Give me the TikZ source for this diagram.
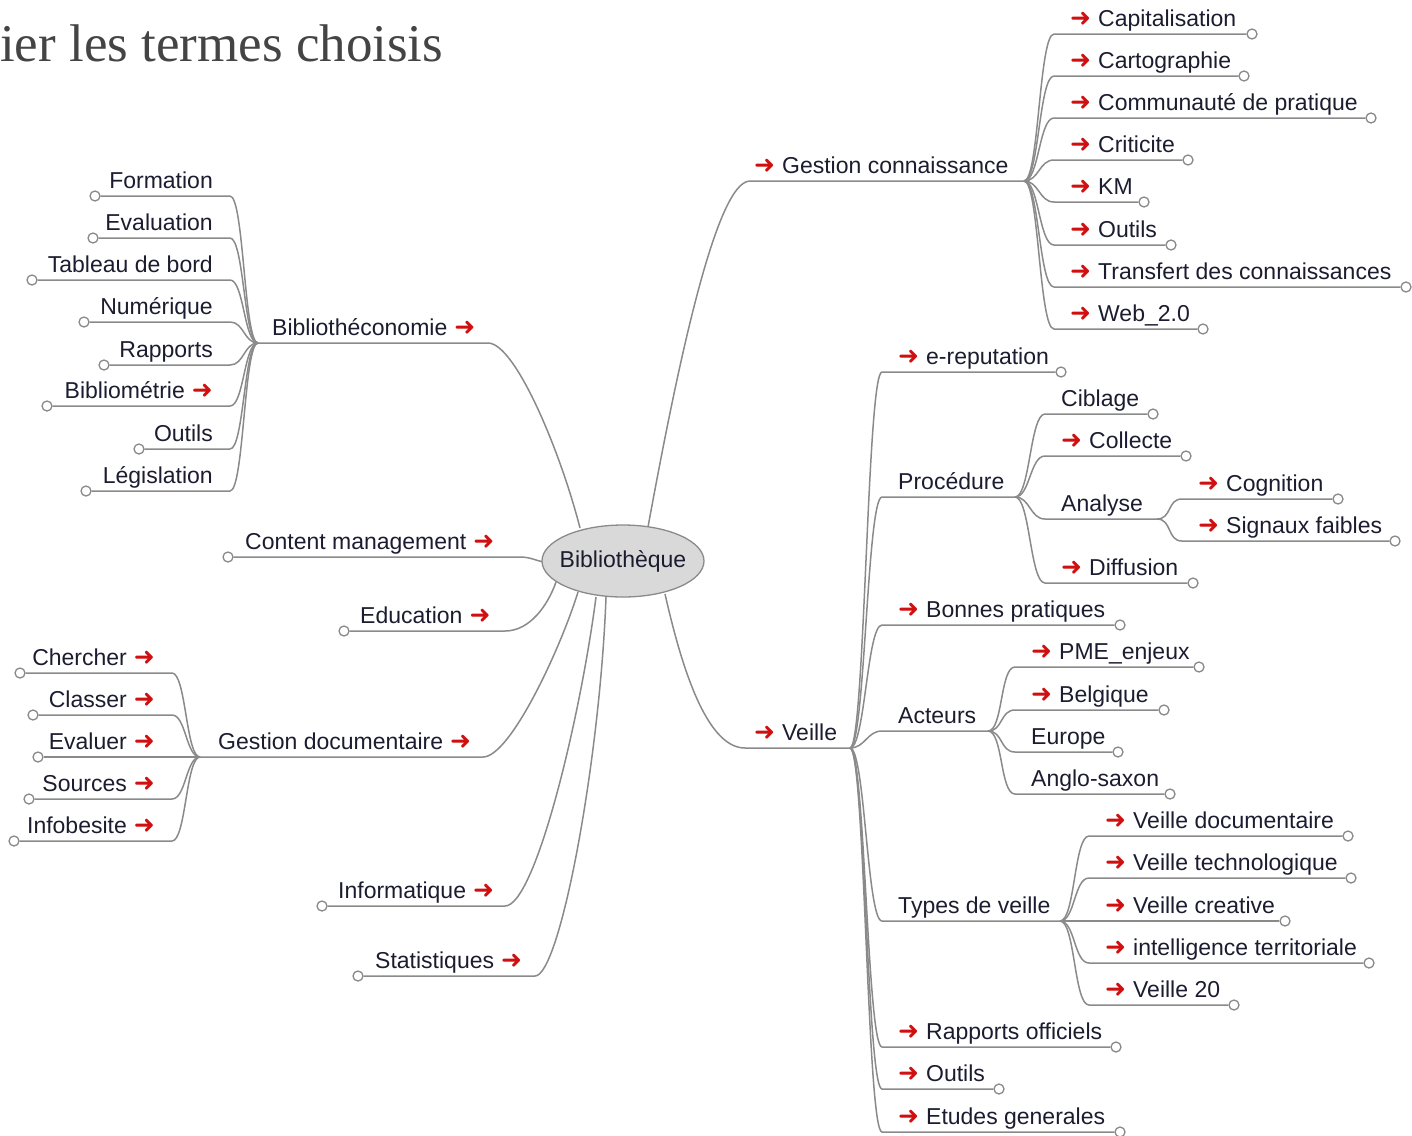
\documentclass[tikz,border=0pt]{standalone}
\usepackage{fontspec}
\setmainfont{Liberation Sans}
\newfontfamily\serifttl{Liberation Serif}
\newfontfamily\arrowfont{DejaVu Sans}
\usetikzlibrary{calc,shapes.geometric}
\definecolor{linegray}{HTML}{8A8A8A}
\definecolor{txt}{HTML}{1C1C30}
\definecolor{arrred}{HTML}{D01010}
\definecolor{ellfill}{HTML}{D9D9D9}
\definecolor{titlegray}{HTML}{444444}
\newcommand\arw{{\arrowfont\bfseries\color{arrred}\fontsize{25}{25}\selectfont ➜}}
\newcommand\ra{\arw\hspace{7pt}}
\newcommand\la{\hspace{7pt}\arw}
% right-hand leaf: name, parent junction, start x, underline y, knob x, label
\newcommand\rleaf[6]{%
  \coordinate (#1-s) at (#3,#4);
  \node[lbl,anchor=base west] (#1) at (#3+16,#4-8) {#6};
  \node[knob] (#1-k) at (#5,#4) {};
  \draw[branch] (#2) .. controls ($(#2)+(15,0)$) and ($(#1-s)+(-15,0)$) .. (#1-s) -- (#1-k);
}
% right-hand inner node: name, parent junction, start x, underline y, own junction x, label
\newcommand\rnode[6]{%
  \coordinate (#1-s) at (#3,#4);
  \coordinate (#1-j) at (#5,#4);
  \node[lbl,anchor=base west] (#1) at (#3+16,#4-8) {#6};
  \draw[branch] (#2) .. controls ($(#2)+(15,0)$) and ($(#1-s)+(-15,0)$) .. (#1-s) -- (#1-j);
}
% left-hand leaf: name, parent junction, end x, underline y, knob x, label
\newcommand\lleaf[6]{%
  \coordinate (#1-s) at (#3,#4);
  \node[lbl,anchor=base east] (#1) at (#3-17,#4-8) {#6};
  \node[knob] (#1-k) at (#5,#4) {};
  \draw[branch] (#2) .. controls ($(#2)+(-14,0)$) and ($(#1-s)+(14,0)$) .. (#1-s) -- (#1-k);
}
\begin{document}
\begin{tikzpicture}[x=1pt,y=-1pt,
  lbl/.style={font=\fontsize{23}{26}\selectfont, text=txt, inner sep=0pt},
  branch/.style={draw=linegray, line width=1.5pt},
  knob/.style={circle, draw=linegray, fill=white, line width=1.3pt, inner sep=0pt, minimum size=10pt},
  rootstyle/.style={ellipse, draw=linegray, fill=ellfill, line width=1.3pt, minimum width=162pt, minimum height=72pt, inner sep=0pt}
]
\useasboundingbox (0,0) rectangle (1412,1135);

\node[anchor=base west, inner sep=0pt, font=\serifttl\fontsize{53}{53}\selectfont, text=titlegray] (title) at (0,61) {ier les termes choisis};

% exit points on the central ellipse
\coordinate (r-gc) at (648,527);
\coordinate (r-ve) at (665,594);
\coordinate (r-bi) at (580,528);
\coordinate (r-cm) at (546,562);
\coordinate (r-ed) at (556,582);
\coordinate (r-gd) at (578,592);
\coordinate (r-in) at (596,597);
\coordinate (r-st) at (606,597);

% ---------- main branches ----------
\coordinate (jgc) at (1024,181);
\node[lbl,anchor=base west] (gc) at (754,173) {\ra Gestion connaissance};
\draw[branch] (r-gc) .. controls (675,380) and (715,181) .. (750,181) -- (jgc);

\coordinate (jv) at (850,748);
\node[lbl,anchor=base west] (veille) at (754,740) {\ra Veille};
\draw[branch] (r-ve) .. controls (680,660) and (705,748) .. (745,748) -- (jv);

\coordinate (jb) at (258,343);
\node[lbl,anchor=base west] (biblio) at (272,335) {Bibliothéconomie\la};
\draw[branch] (jb) -- (488,343) .. controls (515,343) and (560,450) .. (r-bi);

\node[knob] (cm-k) at (228,557) {};
\node[lbl,anchor=base west] (cm) at (245,549) {Content management\la};
\draw[branch] (cm-k) -- (520,557) .. controls (532,557) and (538,562) .. (r-cm);

\node[knob] (ed-k) at (344,631) {};
\node[lbl,anchor=base west] (ed) at (360,623) {Education\la};
\draw[branch] (ed-k) -- (505,631) .. controls (530,631) and (548,605) .. (r-ed);

\coordinate (jgd) at (200,757);
\node[lbl,anchor=base west] (gd) at (218,749) {Gestion documentaire\la};
\draw[branch] (jgd) -- (483,757) .. controls (510,757) and (560,650) .. (r-gd);

\node[knob] (inf-k) at (322,906) {};
\node[lbl,anchor=base west] (inf) at (338,898) {Informatique\la};
\draw[branch] (inf-k) -- (505,906) .. controls (535,906) and (580,720) .. (r-in);

\node[knob] (st-k) at (358,976) {};
\node[lbl,anchor=base west] (st) at (375,968) {Statistiques\la};
\draw[branch] (st-k) -- (535,976) .. controls (560,976) and (600,760) .. (r-st);

% ---------- Bibliotheconomie ----------
\lleaf{formation}{jb}{230}{196}{95}{Formation}
\lleaf{evaluation}{jb}{230}{238}{93}{Evaluation}
\lleaf{tableau}{jb}{230}{280}{32}{Tableau de bord}
\lleaf{numerique}{jb}{230}{322}{84}{Numérique}
\lleaf{rapports}{jb}{230}{365}{104}{Rapports}
\lleaf{bibliometrie}{jb}{230}{406}{47}{Bibliométrie\la}
\lleaf{outilsb}{jb}{230}{449}{139}{Outils}
\lleaf{legislation}{jb}{230}{491}{86}{Législation}

% ---------- Gestion documentaire ----------
\lleaf{chercher}{jgd}{172}{673}{20}{Chercher\la}
\lleaf{classer}{jgd}{172}{715}{33}{Classer\la}
\lleaf{evaluer}{jgd}{172}{757}{38}{Evaluer\la}
\lleaf{sources}{jgd}{172}{799}{29}{Sources\la}
\lleaf{infobesite}{jgd}{172}{841}{14}{Infobesite\la}

% ---------- Gestion connaissance ----------
\rleaf{capital}{jgc}{1054}{34}{1252}{\ra Capitalisation}
\rleaf{carto}{jgc}{1054}{76}{1244}{\ra Cartographie}
\rleaf{commu}{jgc}{1054}{118}{1371}{\ra Communauté de pratique}
\rleaf{critic}{jgc}{1054}{160}{1188}{\ra Criticite}
\rleaf{km}{jgc}{1054}{202}{1144}{\ra KM}
\rleaf{outilsk}{jgc}{1054}{245}{1171}{\ra Outils}
\rleaf{transfert}{jgc}{1054}{287}{1406}{\ra Transfert des connaissances}
\rleaf{web}{jgc}{1054}{329}{1203}{\ra Web\_2.0}

% ---------- Veille ----------
\rleaf{erep}{jv}{882}{372}{1061}{\ra e-reputation}
\rnode{proc}{jv}{882}{497}{1015}{Procédure}
\rleaf{bonnes}{jv}{882}{625}{1120}{\ra Bonnes pratiques}
\rnode{acteurs}{jv}{882}{731}{988}{Acteurs}
\rnode{types}{jv}{882}{921}{1060}{Types de veille}
\rleaf{rapoff}{jv}{882}{1047}{1116}{\ra Rapports officiels}
\rleaf{outilsv}{jv}{882}{1089}{999}{\ra Outils}
\rleaf{etudes}{jv}{882}{1132}{1120}{\ra Etudes generales}

% Procedure
\rleaf{ciblage}{proc-j}{1045}{414}{1153}{Ciblage}
\rleaf{collecte}{proc-j}{1045}{456}{1186}{\ra Collecte}
\rnode{analyse}{proc-j}{1045}{519}{1157}{Analyse}
\rleaf{diffusion}{proc-j}{1045}{583}{1193}{\ra Diffusion}
% Analyse
\rleaf{cognition}{analyse-j}{1182}{499}{1338}{\ra Cognition}
\rleaf{signaux}{analyse-j}{1182}{541}{1395}{\ra Signaux faibles}
% Acteurs
\rleaf{pme}{acteurs-j}{1015}{667}{1199}{\ra PME\_enjeux}
\rleaf{belgique}{acteurs-j}{1015}{710}{1164}{\ra Belgique}
\rleaf{europe}{acteurs-j}{1015}{752}{1118}{Europe}
\rleaf{anglo}{acteurs-j}{1015}{794}{1170}{Anglo-saxon}
% Types de veille
\rleaf{vdoc}{types-j}{1089}{836}{1348}{\ra Veille documentaire}
\rleaf{vtech}{types-j}{1089}{878}{1351}{\ra Veille technologique}
\rleaf{vcrea}{types-j}{1089}{921}{1285}{\ra Veille creative}
\rleaf{intel}{types-j}{1089}{963}{1369}{\ra intelligence territoriale}
\rleaf{v20}{types-j}{1089}{1005}{1234}{\ra Veille 20}

% ---------- centre ----------
\node[rootstyle] (root) at (623,561) {};
\node[lbl] (rootlabel) at (root.center) {Bibliothèque};
\end{tikzpicture}
\end{document}
